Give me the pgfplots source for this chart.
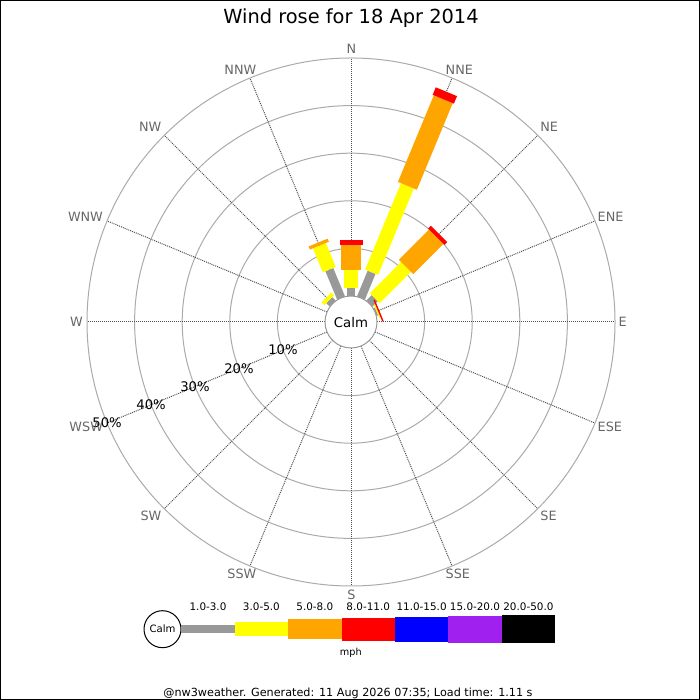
\documentclass[border=0pt]{standalone}
\usepackage{fontspec}
\setmainfont{DejaVu Sans}
\usepackage{pgfplots}
\usepackage{pgfplotstable}
\pgfplotsset{compat=1.18}

\definecolor{sgray}{RGB}{153,153,153}
\definecolor{syellow}{RGB}{255,255,0}
\definecolor{sorange}{RGB}{255,165,0}
\definecolor{sred}{RGB}{255,0,0}
\definecolor{sblue}{RGB}{0,0,255}
\definecolor{spurple}{RGB}{160,32,240}
\definecolor{labgray}{RGB}{102,102,102}
\definecolor{ringgray}{RGB}{170,170,170}
\definecolor{spokegray}{RGB}{80,80,80}

% bearing (deg), cumulative % start, cumulative % end
\pgfplotstableread{
b p0 p1
337.5 0 6.45
0 0 1.6
22.5 0 5.84
45 0 1.6
315 0 1.0
67.5 0 0.35
}\graytab
\pgfplotstableread{
b p0 p1
337.5 6.45 11.9
0 1.6 5.55
22.5 5.84 25.5
45 1.6 10.9
315 1.0 1.85
67.5 0.35 0.65
}\yellowtab
\pgfplotstableread{
b p0 p1
337.5 11.9 12.6
0 5.55 10.7
22.5 25.5 45.2
45 10.9 19.9
}\orangetab
\pgfplotstableread{
b p0 p1
0 10.7 11.8
22.5 45.2 46.9
45 19.9 20.7
67.5 0.65 0.95
}\redtab

\pgfplotsset{
  rosebar/.style={mark=none, line cap=butt,
    quiver={u={4.76*(\thisrow{p1}-\thisrow{p0})*sin(\thisrow{b})},
            v={4.76*(\thisrow{p1}-\thisrow{p0})*cos(\thisrow{b})}}},
}

\begin{document}
\begin{tikzpicture}
\begin{axis}[x=0.5pt, y=0.5pt, xmin=-351, xmax=349, ymin=-378, ymax=322,
  hide axis, clip=false]
% bounding box and frame
\path (axis cs:-351,-378) rectangle (axis cs:349,322);
\draw[black, line width=0.5pt] (axis cs:-350.5,-377.5) rectangle (axis cs:348.5,321.5);
% rings
\draw[ringgray, line width=0.5pt] (axis cs:0,0) circle[radius=36.8pt];
\draw[ringgray, line width=0.5pt] (axis cs:0,0) circle[radius=60.6pt];
\draw[ringgray, line width=0.5pt] (axis cs:0,0) circle[radius=84.4pt];
\draw[ringgray, line width=0.5pt] (axis cs:0,0) circle[radius=108.2pt];
\draw[ringgray, line width=0.5pt] (axis cs:0,0) circle[radius=132pt];
% spokes
\pgfplotsinvokeforeach{0,22.5,45,67.5,90,112.5,135,157.5,180,202.5,225,247.5,270,292.5,315,337.5}{
  \addplot[spokegray, line width=0.5pt, dash pattern=on 0.5pt off 0.5pt, data cs=polar, mark=none, forget plot]
    coordinates {(#1,26) (#1,264)};
}
% bars
\addplot[draw=sgray, line width=4.25pt, rosebar] table[x expr={(26+4.76*\thisrow{p0})*sin(\thisrow{b})},
  y expr={(26+4.76*\thisrow{p0})*cos(\thisrow{b})}] {\graytab};
\addplot[draw=syellow, line width=7pt, rosebar] table[x expr={(26+4.76*\thisrow{p0})*sin(\thisrow{b})},
  y expr={(26+4.76*\thisrow{p0})*cos(\thisrow{b})}] {\yellowtab};
\addplot[draw=sorange, line width=10.25pt, rosebar] table[x expr={(26+4.76*\thisrow{p0})*sin(\thisrow{b})},
  y expr={(26+4.76*\thisrow{p0})*cos(\thisrow{b})}] {\orangetab};
\addplot[draw=sred, line width=11.5pt, rosebar] table[x expr={(26+4.76*\thisrow{p0})*sin(\thisrow{b})},
  y expr={(26+4.76*\thisrow{p0})*cos(\thisrow{b})}] {\redtab};
% calm circle
\draw[sgray, fill=white, line width=0.5pt] (axis cs:0,0) circle[radius=13pt];
\node[anchor=base, inner sep=0pt, font=\fontsize{6.65pt}{7pt}\selectfont] at (axis cs:0,-5.3) {Calm};
% percent labels
\node[anchor=base, inner sep=0pt, font=\fontsize{6.6pt}{7pt}\selectfont] at (axis cs:-68,-33) {10\%};
\node[anchor=base, inner sep=0pt, font=\fontsize{6.6pt}{7pt}\selectfont] at (axis cs:-112,-51.2) {20\%};
\node[anchor=base, inner sep=0pt, font=\fontsize{6.6pt}{7pt}\selectfont] at (axis cs:-156,-69.4) {30\%};
\node[anchor=base, inner sep=0pt, font=\fontsize{6.6pt}{7pt}\selectfont] at (axis cs:-199.9,-87.6) {40\%};
\node[anchor=base, inner sep=0pt, font=\fontsize{6.6pt}{7pt}\selectfont] at (axis cs:-243.9,-105.8) {50\%};
% direction labels
\begin{scope}[every node/.style={inner sep=0pt, text=labgray, font=\fontsize{6.4pt}{7pt}\selectfont}]
\node[anchor=base] at (axis cs:0.5,268.4) {N};
\node[anchor=base west] at (axis cs:94.3,247.4) {NNE};
\node[anchor=base west] at (axis cs:189,190) {NE};
\node[anchor=base west] at (axis cs:246.3,100.7) {ENE};
\node[anchor=base west] at (axis cs:267.3,-4.65) {E};
\node[anchor=base west] at (axis cs:246.3,-109.4) {ESE};
\node[anchor=base west] at (axis cs:189,-199) {SE};
\node[anchor=base west] at (axis cs:94.3,-256.7) {SSE};
\node[anchor=base] at (axis cs:0.5,-277.7) {S};
\node[anchor=base east] at (axis cs:-94.3,-256.7) {SSW};
\node[anchor=base east] at (axis cs:-189.3,-199) {SW};
\node[anchor=base east] at (axis cs:-247.7,-109.4) {WSW};
\node[anchor=base east] at (axis cs:-267.7,-4.65) {W};
\node[anchor=base east] at (axis cs:-247.7,100.7) {WNW};
\node[anchor=base east] at (axis cs:-189.3,190) {NW};
\node[anchor=base east] at (axis cs:-94.3,247.4) {NNW};
\end{scope}
% title
\node[anchor=base, inner sep=0pt, font=\fontsize{9.7pt}{11pt}\selectfont] at (axis cs:0,298.7) {Wind rose for 18 Apr 2014};
% legend
\draw[black, fill=white, line width=0.5pt] (axis cs:-188.5,-307.2) circle[radius=9.25pt];
\node[anchor=base, inner sep=0pt, font=\fontsize{5.05pt}{6pt}\selectfont] at (axis cs:-188.5,-310.9) {Calm};
\fill[sgray]    (axis cs:-169.7,-311.35) rectangle (axis cs:-116.3,-303.05);
\fill[syellow]  (axis cs:-116.3,-314.35) rectangle (axis cs:-62.9,-300.05);
\fill[sorange]  (axis cs:-62.9,-317.35) rectangle (axis cs:-9.5,-297.05);
\fill[sred]     (axis cs:-9.5,-318.7) rectangle (axis cs:43.9,-295.7);
\fill[sblue]    (axis cs:43.9,-319.7) rectangle (axis cs:97.3,-294.7);
\fill[spurple]  (axis cs:97.3,-320.55) rectangle (axis cs:150.7,-293.85);
\fill[black]    (axis cs:150.7,-321.35) rectangle (axis cs:204.1,-293.05);
\begin{scope}[every node/.style={anchor=base, inner sep=0pt, font=\fontsize{5.2pt}{6pt}\selectfont}]
\node at (axis cs:-143,-288.7) {1.0-3.0};
\node at (axis cs:-89.6,-288.7) {3.0-5.0};
\node at (axis cs:-36.2,-288.7) {5.0-8.0};
\node at (axis cs:17.2,-288.7) {8.0-11.0};
\node at (axis cs:70.6,-288.7) {11.0-15.0};
\node at (axis cs:124,-288.7) {15.0-20.0};
\node at (axis cs:177.4,-288.7) {20.0-50.0};
\end{scope}
\node[anchor=base, inner sep=0pt, font=\fontsize{4.85pt}{6pt}\selectfont] at (axis cs:-0.2,-333.3) {mph};
\node[anchor=base, inner sep=0pt, font=\fontsize{5.6pt}{7pt}\selectfont] at (axis cs:-3,-374.7) {@nw3weather.  Generated: 11 Aug 2026 07:35; Load time: 1.11 s};
\end{axis}
\end{tikzpicture}
\end{document}
